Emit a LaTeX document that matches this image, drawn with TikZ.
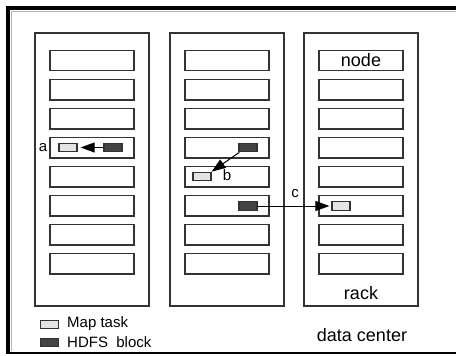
\documentclass[tikz,border=0pt]{standalone}
\usepackage{fontspec}
\setmainfont{Liberation Sans}
\usetikzlibrary{arrows.meta}
\definecolor{maptask}{HTML}{E4E4E4}
\definecolor{hdfs}{HTML}{444444}
\definecolor{edge}{HTML}{333333}
\begin{document}
\begin{tikzpicture}[x=1pt,y=-1pt,
  rackbox/.style={draw=edge,line width=1.4pt,minimum width=114pt,minimum height=273pt,inner sep=0pt},
  nodebox/.style={draw=edge,line width=1.4pt,minimum width=84pt,minimum height=20.5pt,inner sep=0pt},
  taskbox/.style={draw=edge,fill=maptask,line width=1.2pt,minimum width=18pt,minimum height=8.5pt,inner sep=0pt},
  blockbox/.style={draw=edge,fill=hdfs,line width=1.2pt,minimum width=18pt,minimum height=8.5pt,inner sep=0pt},
  flow/.style={line width=1pt,-{Triangle[length=14pt,width=10pt]}},
  lbl/.style={font=\fontsize{15}{17}\selectfont,inner sep=0pt},
  biglbl/.style={font=\fontsize{18}{20}\selectfont,inner sep=0pt}]
\useasboundingbox (0,0) rectangle (456,356);
\fill[white] (0,0) rectangle (456,356);
% frame
\draw[line width=4pt] (456,8) -- (8,8) -- (8,354);
\draw[line width=2pt] (7,353) -- (456,353);
\draw[gray!60,line width=0.6pt] (456,11) -- (11,11) -- (11,351);
% racks
\foreach \r/\x in {1/92,2/227,3/361}{
  \node[rackbox] (r\r) at (\x,169.5) {};
  \foreach \i in {1,...,8}{
    \pgfmathsetmacro{\yy}{60.5+29.05*(\i-1)}
    \node[nodebox] (n\r\i) at (\x,\yy) {};
  }
}
\node[biglbl] at (n31) {node};
\node[biglbl] (racklbl) at (361,293) {rack};
% case a
\node[taskbox] (ta) at (68,147.5) {};
\node[blockbox] (ba) at (113,147.5) {};
\draw[flow] (ba.west) -- ([xshift=3pt]ta.east);
\node[lbl,anchor=east] (la) at ([xshift=-2pt]n14.west|-ta) {a};
% case b
\node[blockbox] (bb) at (248,147.5) {};
\node[taskbox] (tb) at (202,176.5) {};
\draw[flow] ([xshift=1pt]bb.south west) -- (tb.north east);
\node[lbl] (lb) at (227,175) {b};
% case c
\node[blockbox] (bc) at (248,206) {};
\node[taskbox] (tc) at (341,206) {};
\draw[flow] (bc.east) -- ([xshift=-2pt]tc.west);
\node[lbl] (lc) at (295,194) {c};
% legend
\node[taskbox] (legt) at (49.5,324.5) {};
\node[blockbox] (legb) at (49.5,342.5) {};
\node[lbl,anchor=west] (legtt) at (67,324) {Map task};
\node[lbl,anchor=west] (legbt) at (67,342.5) {HDFS\ \ block};
\node[biglbl] (dc) at (362,335) {data center};
\end{tikzpicture}
\end{document}
